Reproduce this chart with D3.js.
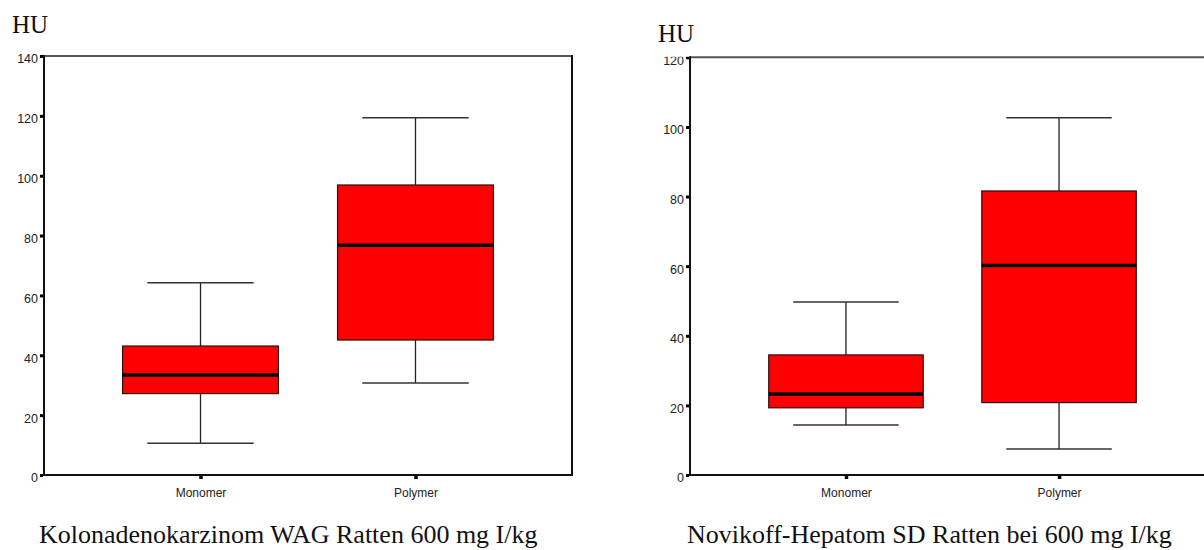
<!DOCTYPE html>
<html>
<head>
<meta charset="utf-8">
<script src="https://cdn.jsdelivr.net/npm/d3@7"></script>
<style>
  html, body { margin: 0; padding: 0; background: #fff; }
  svg { display: block; }
</style>
</head>
<body>
<svg id="chart" width="1204" height="550"></svg>
<script>
// Groups shown on both plots
const categories = ["Monomer", "Polymer"];

// Kolonadenokarzinom, WAG rats: five-number summaries (HU)
const colonMin    = [10.6, 30.7];
const colonQ1     = [27.2, 45.1];
const colonMedian = [33.4, 76.8];
const colonQ3     = [43.1, 96.9];
const colonMax    = [64.2, 119.4];
const colonTicks  = [0, 20, 40, 60, 80, 100, 120, 140];

// Novikoff-Hepatom, SD rats: five-number summaries (HU)
const hepMin    = [14.4, 7.5];
const hepQ1     = [19.3, 20.8];
const hepMedian = [23.3, 60.2];
const hepQ3     = [34.5, 81.6];
const hepMax    = [49.7, 102.6];
const hepTicks  = [0, 20, 40, 60, 80, 100, 120];

const svg = d3.select("#chart");

function boxPanel(opt) {
  const g = svg.append("g");
  const rows = categories.map((c, i) => ({
    cat: c, min: opt.min[i], q1: opt.q1[i], med: opt.median[i], q3: opt.q3[i], max: opt.max[i]
  }));

  const x = d3.scalePoint().domain(categories).range([opt.left, opt.right]).padding(opt.pad);
  const y = d3.scaleLinear().domain([0, opt.yMax]).range([opt.bottom, opt.top]);
  const step = x.step();
  const boxW = step * 0.725;
  const capW = step * 0.495;

  // frame: top and (optionally) right edges
  g.append("line")
    .attr("x1", opt.left).attr("x2", Math.min(opt.right, 1204))
    .attr("y1", opt.top).attr("y2", opt.top)
    .attr("stroke", "#555").attr("stroke-width", 2);
  if (opt.rightBorder) {
    g.append("line")
      .attr("x1", opt.right).attr("x2", opt.right)
      .attr("y1", opt.top - 1).attr("y2", opt.bottom + 1)
      .attr("stroke", "#111").attr("stroke-width", 2);
  }

  // boxes
  const b = g.selectAll(".box").data(rows).join("g").attr("class", "box");
  b.append("line")
    .attr("x1", d => x(d.cat)).attr("x2", d => x(d.cat))
    .attr("y1", d => y(d.max)).attr("y2", d => y(d.q3))
    .attr("stroke", "#222").attr("stroke-width", 1.3);
  b.append("line")
    .attr("x1", d => x(d.cat)).attr("x2", d => x(d.cat))
    .attr("y1", d => y(d.q1)).attr("y2", d => y(d.min))
    .attr("stroke", "#222").attr("stroke-width", 1.3);
  b.append("line")
    .attr("x1", d => x(d.cat) - capW / 2).attr("x2", d => x(d.cat) + capW / 2)
    .attr("y1", d => y(d.max)).attr("y2", d => y(d.max))
    .attr("stroke", "#333").attr("stroke-width", 1.5);
  b.append("line")
    .attr("x1", d => x(d.cat) - capW / 2).attr("x2", d => x(d.cat) + capW / 2)
    .attr("y1", d => y(d.min)).attr("y2", d => y(d.min))
    .attr("stroke", "#333").attr("stroke-width", 1.5);
  b.append("rect")
    .attr("x", d => x(d.cat) - boxW / 2).attr("width", boxW)
    .attr("y", d => y(d.q3)).attr("height", d => y(d.q1) - y(d.q3))
    .attr("fill", "#ff0000").attr("stroke", "#2a1010").attr("stroke-width", 1.2);
  b.append("line")
    .attr("x1", d => x(d.cat) - boxW / 2).attr("x2", d => x(d.cat) + boxW / 2)
    .attr("y1", d => y(d.med)).attr("y2", d => y(d.med))
    .attr("stroke", "#000").attr("stroke-width", 3.5);

  // y axis (labels of the right plot are cut off at the frame top)
  const clipId = "clip" + opt.id;
  svg.append("clipPath").attr("id", clipId)
    .append("rect").attr("x", -60).attr("y", opt.top - 0.5)
    .attr("width", 80).attr("height", opt.bottom - opt.top + 40);
  const ya = g.append("g")
    .attr("transform", `translate(${opt.left},0)`)
    .attr("clip-path", opt.clipTop ? `url(#${clipId})` : null)
    .call(d3.axisLeft(y).tickValues(opt.ticks).tickSize(3).tickPadding(3));
  ya.select(".domain").remove();
  ya.selectAll(".tick line").attr("stroke", "#000").attr("stroke-width", 3)
    .attr("x1", -1).attr("x2", -4);
  ya.selectAll(".tick text")
    .attr("font-family", "Arial, 'Liberation Sans', sans-serif")
    .attr("font-size", 12.5).attr("fill", "#222")
    .attr("x", -6).attr("dy", "0.55em");
  g.append("line")
    .attr("x1", opt.left).attr("x2", opt.left)
    .attr("y1", opt.top - 1).attr("y2", opt.bottom + 1)
    .attr("stroke", "#111").attr("stroke-width", 2);

  // x axis
  const xa = g.append("g")
    .attr("transform", `translate(0,${opt.bottom})`)
    .call(d3.axisBottom(x).tickSize(4).tickPadding(9));
  xa.select(".domain").remove();
  xa.selectAll(".tick line").attr("stroke", "#000").attr("stroke-width", 3.5);
  xa.selectAll(".tick text")
    .attr("font-family", "Arial, 'Liberation Sans', sans-serif")
    .attr("font-size", 12).attr("fill", "#222");
  g.append("line")
    .attr("x1", opt.left - 1).attr("x2", Math.min(opt.right, 1204))
    .attr("y1", opt.bottom).attr("y2", opt.bottom)
    .attr("stroke", "#111").attr("stroke-width", 2);

  // unit label and caption
  g.append("text")
    .attr("x", opt.unitX).attr("y", opt.unitY)
    .attr("font-family", "'Liberation Serif', 'Times New Roman', serif")
    .attr("font-size", 25).attr("fill", "#111")
    .text("HU");
  g.append("text")
    .attr("x", opt.captionX).attr("y", 543)
    .attr("font-family", "'Liberation Serif', 'Times New Roman', serif")
    .attr("font-size", 26).attr("fill", "#111")
    .text(opt.caption);
}

boxPanel({
  id: "a", left: 44, right: 572, top: 56, bottom: 475, pad: 0.728, yMax: 140,
  ticks: colonTicks, min: colonMin, q1: colonQ1, median: colonMedian, q3: colonQ3, max: colonMax,
  rightBorder: true, clipTop: false, unitX: 12, unitY: 33, captionX: 39,
  caption: "Kolonadenokarzinom WAG Ratten 600 mg I/kg"
});

boxPanel({
  id: "b", left: 690, right: 1215, top: 57.3, bottom: 475, pad: 0.732, yMax: 120,
  ticks: hepTicks, min: hepMin, q1: hepQ1, median: hepMedian, q3: hepQ3, max: hepMax,
  rightBorder: false, clipTop: true, unitX: 658, unitY: 42, captionX: 687,
  caption: "Novikoff-Hepatom SD Ratten bei 600 mg I/kg"
});
</script>
</body>
</html>
